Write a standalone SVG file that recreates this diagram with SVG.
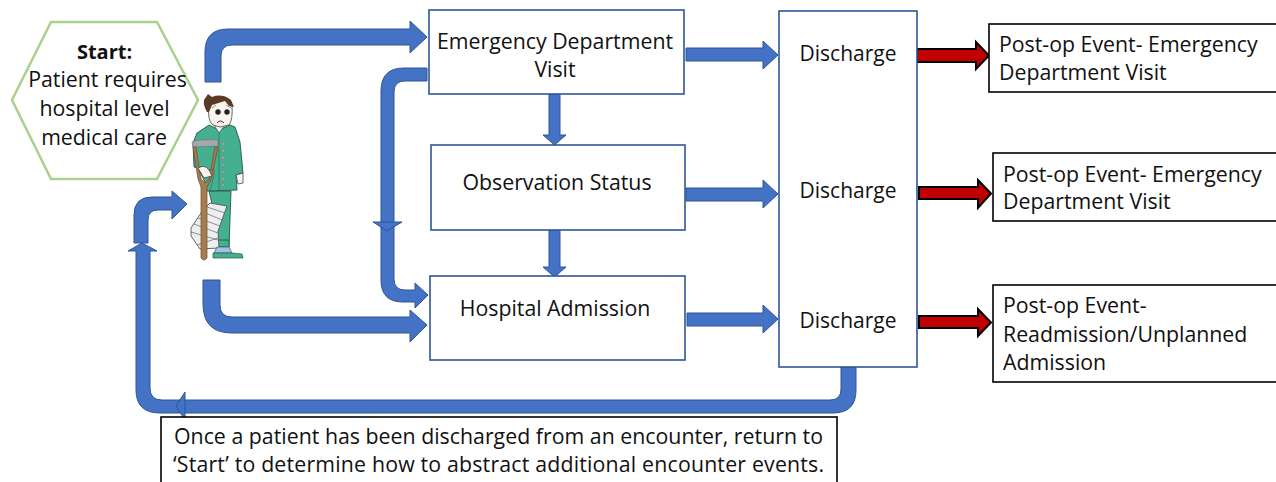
<svg xmlns="http://www.w3.org/2000/svg" width="1276" height="482" viewBox="0 0 1276 482">
<style>
text{font-family:"Open Sans","Noto Sans","Liberation Sans",sans-serif;font-size:21.300px;fill:#111}
.c{text-anchor:middle}
.box{fill:#fff;stroke:#2f5597;stroke-width:1.6}
.note{fill:#fff;stroke:#000;stroke-width:1.6}
.blue{fill:#4472c4;stroke:#2f5597;stroke-width:1}
.red{fill:#c00000;stroke:#000;stroke-width:2}
.ol{stroke:#24574a;stroke-width:.9}
.g{fill:#45b08f}
.skin{fill:#f9f4ee;stroke:#444;stroke-width:.8}
.wood{fill:#a67c4e;stroke:#6b4a2a;stroke-width:.7}
</style>
<rect width="1276" height="482" fill="#fff"/>
<g id="connectors">
<path class="blue" d="M205,82V52Q205,29 228,29H410V21L427,37L410,53V45H232Q221,45 221,56V82Z"/>
<path class="blue" d="M427,68H404Q381,68 381,91V280Q381,302 403,302H415V308L428,295L415,283V290H405Q394,290 394,279V92Q394,81 405,81H427Z"/>
<path class="blue" d="M373,222H402L387,231Z"/>
<path class="blue" d="M203,280H220V305Q220,317 232,317H410V310L427,325L410,342V333H232Q203,333 203,304Z"/>
<path class="blue" d="M856,367V390Q856,413 833,413H160Q136,413 136,390V251H128L142,243L157,251H150V388Q150,400 162,400H830Q841,400 841,389V367Z"/>
<path class="blue" d="M134,243V215Q134,197 152,197H172V191L187,204L172,219V210H158Q148,210 148,220V243Z"/>
<path class="blue" d="M185,392V420L176,406Z"/>
<path class="blue" d="M549,94H560V135H566L554.500,145L543,135H549Z"/>
<path class="blue" d="M549,230H560V267H566L554.500,277L543,267H549Z"/>
<path class="blue" d="M686,48H763V41L778,55L763,69V61H686Z"/>
<path class="blue" d="M686,188H763V180L778,194L763,208V201H686Z"/>
<path class="blue" d="M687,313H763V305L778,319L763,333V326H687Z"/>
<path class="red" d="M917,49H976V42L989,55.500L976,69V62H917Z"/>
<path class="red" d="M919,187H978V180L991,193.500L978,208V199H919Z"/>
<path class="red" d="M919,316H978V309L991,322.500L978,336V328H919Z"/>
</g>
<g id="start">
<path d="M51,22H157L198,100L157,179H51L12,100Z" fill="#fff" stroke="#a9d18e" stroke-width="2.500"/>
<text class="c" x="104.500" y="59" style="font-weight:700;font-size:20px">Start:</text>
<text class="c" x="107.500" y="87">Patient requires</text>
<text class="c" x="104.500" y="116">hospital level</text>
<text class="c" x="104" y="145">medical care</text>
</g>
<g id="patient">
<path class="g ol" d="M209,191H231L229,247H217L217,225Z"/>
<path class="g ol" d="M216,240H229V247H216Z"/>
<path d="M210,203L227,206L218,231L219,248L200,249L191,236L191,228L203,210Z" fill="#eceff0" stroke="#555" stroke-width=".9"/>
<path d="M207,207L225,213M203,212L222,220M198,218L220,226M194,224L218,233M191,232L218,240M197,245L218,238" stroke="#666" stroke-width=".7" fill="none"/>
<path d="M217,247H229L232,253H214Z" fill="#9dc3e6" stroke="#555" stroke-width=".7"/>
<path d="M213,253H232L242,254L243,258H213Z" fill="#45b08f" stroke="#24574a" stroke-width=".7"/>
<path class="g ol" d="M209,125L197,133L193,143L194,167L198,168L205,182L207,191L237,190L236,175L243,173L240,142L235,127L230,125L219,130Z"/>
<path d="M214,125L219,133L225,125Z" fill="#f9f4ee" stroke="#24574a" stroke-width=".7"/>
<path d="M219,133V190M210,191L214,175" stroke="#24574a" stroke-width=".5" fill="none"/>
<path class="skin" d="M209,104Q207,121 213,125L220,127L229,125Q233,120 232,105L228,100H212Z"/>
<path d="M204,100L208,94L212,97Q222,93 231,100L234,107L229,106L225,101L212,105L209,112L207,112Q203,105 204,100Z" fill="#5b3a25"/>
<circle cx="218" cy="112" r="2.700" fill="#222"/><circle cx="227" cy="112" r="2.700" fill="#222"/>
<path d="M212,108L216,105M226,105L231,108" stroke="#555" stroke-width=".6" fill="none"/>
<path d="M217,123Q220,119 224,123" fill="none" stroke="#333"/>
<path d="M192,142Q197,139 218,140L218,146L193,147Z" fill="#a5a9ad" stroke="#666" stroke-width=".5"/>
<path class="wood" d="M193,147L198,179L201,187V258Q204,262 207,258V187L211,180L218,147H215L209,180L205,183L201,179L196,147Z"/>
<path class="wood" d="M205,170H214V174H205Z"/>
<path class="skin" d="M198,168Q205,164 209,170L212,176L204,178Z"/>
<path class="skin" d="M236,175L243,173L243,183L238,184Z"/>
<g fill="#a9b0ad" stroke="#555" stroke-width=".3"><circle cx="223" cy="144" r="1.400"/><circle cx="223" cy="151" r="1.400"/><circle cx="223" cy="158" r="1.400"/><circle cx="223" cy="165" r="1.400"/><circle cx="223" cy="172" r="1.400"/><circle cx="223" cy="179" r="1.400"/><circle cx="223" cy="185" r="1.400"/></g>
</g>
<g id="ed"><rect class="box" x="429" y="10" width="255" height="84"/>
<text class="c" x="555" y="49">Emergency Department</text><text class="c" x="555" y="77">Visit</text></g>
<g id="obs"><rect class="box" x="431" y="145" width="254" height="85"/>
<text class="c" x="557" y="190">Observation Status</text></g>
<g id="adm"><rect class="box" x="430" y="276" width="255" height="84"/>
<text class="c" x="555" y="316">Hospital Admission</text></g>
<g id="discharge"><rect class="box" x="779" y="11" width="138" height="356"/>
<text class="c" x="848" y="61" style="font-size:21px">Discharge</text><text class="c" x="848" y="198" style="font-size:21px">Discharge</text><text class="c" x="848" y="328" style="font-size:21px">Discharge</text></g>
<g id="post1"><rect class="note" x="989" y="24" width="295" height="68"/>
<text x="999" y="52">Post-op Event- Emergency</text><text x="999" y="80">Department Visit</text></g>
<g id="post2"><rect class="note" x="993" y="153" width="291" height="68"/>
<text x="1003" y="182">Post-op Event- Emergency</text><text x="1003" y="209">Department Visit</text></g>
<g id="post3"><rect class="note" x="993" y="285" width="291" height="97"/>
<text x="1003" y="313">Post-op Event-</text><text x="1003" y="342">Readmission/Unplanned</text><text x="1003" y="370">Admission</text></g>
<g id="note"><rect class="note" x="161" y="417" width="676" height="75"/>
<text x="174" y="444" textLength="649">Once a patient has been discharged from an encounter, return to</text>
<text x="173" y="472" textLength="651">‘Start’ to determine how to abstract additional encounter events.</text></g>
</svg>
